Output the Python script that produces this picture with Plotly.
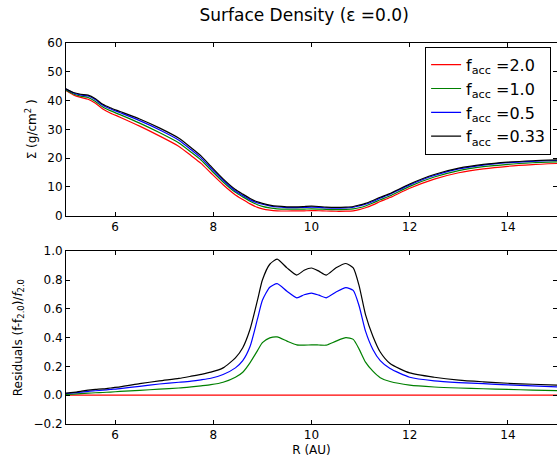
import plotly.graph_objects as go
from plotly.subplots import make_subplots

R = [5.0, 5.15, 5.3, 5.45, 5.6, 5.75, 5.9, 6.1, 6.5, 6.9, 7.3, 7.55, 7.75, 7.95, 8.2, 8.45, 8.6,
     8.75, 8.9, 9.0, 9.15, 9.3, 9.5, 9.7, 9.85, 10.0, 10.15, 10.3, 10.5, 10.7, 10.85, 10.97,
     11.1, 11.25, 11.4, 11.6, 12.0, 12.5, 13.0, 13.5, 14.0, 14.5, 15.0]

sigma_f20 = [43.45, 41.96, 41.09, 40.48, 39.04, 37.07, 35.71, 34.22, 31.11, 27.73, 24.08, 20.85,
             18.17, 14.83, 10.76, 7.22, 5.64, 4.11, 2.89, 2.39, 1.94, 1.70, 1.64, 1.69, 1.71, 1.75,
             1.72, 1.63, 1.54, 1.57, 1.70, 2.10, 2.76, 3.76, 4.92, 6.31, 9.52, 12.71, 14.93, 16.29,
             17.17, 17.75, 18.13]
sigma_f10 = [43.67, 42.30, 41.54, 41.05, 39.70, 37.77, 36.50, 35.11, 32.17, 28.89, 25.28, 22.06,
             19.35, 15.91, 11.73, 8.12, 6.54, 5.04, 3.79, 3.26, 2.71, 2.39, 2.26, 2.28, 2.31, 2.36,
             2.32, 2.20, 2.12, 2.20, 2.36, 2.77, 3.39, 4.39, 5.52, 6.91, 10.19, 13.43, 15.68, 17.02,
             17.86, 18.39, 18.71]
sigma_f05 = [43.97, 42.63, 41.95, 41.57, 40.25, 38.37, 37.14, 35.79, 33.04, 29.89, 26.25, 22.89,
             20.11, 16.58, 12.31, 8.59, 6.99, 5.51, 4.42, 3.97, 3.40, 3.02, 2.82, 2.83, 2.90, 2.99,
             2.92, 2.73, 2.64, 2.74, 2.94, 3.40, 3.99, 4.96, 6.10, 7.48, 10.71, 13.98, 16.24, 17.59,
             18.41, 18.90, 19.18]
sigma_f033 = [44.1, 42.8, 42.2, 41.9, 40.6, 38.7, 37.5, 36.2, 33.6, 30.5, 26.9, 23.6, 20.8, 17.2,
              12.8, 9.1, 7.5, 6.0, 4.8, 4.3, 3.7, 3.3, 3.1, 3.1, 3.2, 3.3, 3.2, 3.0, 2.9, 3.0, 3.2,
              3.7, 4.3, 5.3, 6.4, 7.7, 11.0, 14.3, 16.5, 17.8, 18.6, 19.1, 19.4]

res_f20 = [0.0] * len(R)
res_f10 = [0.005, 0.008, 0.011, 0.014, 0.017, 0.019, 0.022, 0.026, 0.034, 0.042, 0.05, 0.058,
           0.065, 0.073, 0.09, 0.125, 0.16, 0.227, 0.31, 0.365, 0.398, 0.405, 0.376, 0.35, 0.348,
           0.35, 0.349, 0.348, 0.376, 0.40, 0.388, 0.32, 0.23, 0.167, 0.122, 0.095, 0.07, 0.057,
           0.05, 0.045, 0.04, 0.036, 0.032]
res_f05 = [0.012, 0.016, 0.021, 0.027, 0.031, 0.035, 0.04, 0.046, 0.062, 0.078, 0.09, 0.098,
           0.107, 0.118, 0.144, 0.19, 0.24, 0.34, 0.53, 0.66, 0.75, 0.775, 0.722, 0.677, 0.698,
           0.71, 0.695, 0.677, 0.717, 0.747, 0.728, 0.62, 0.445, 0.318, 0.24, 0.185, 0.125, 0.1,
           0.088, 0.08, 0.072, 0.065, 0.058]
res_f033 = [0.015, 0.02, 0.027, 0.035, 0.04, 0.044, 0.05, 0.058, 0.08, 0.1, 0.117, 0.132, 0.145,
            0.16, 0.19, 0.26, 0.33, 0.46, 0.66, 0.80, 0.91, 0.945, 0.885, 0.835, 0.868, 0.884,
            0.862, 0.835, 0.885, 0.915, 0.885, 0.76, 0.56, 0.41, 0.30, 0.22, 0.155, 0.125, 0.105,
            0.093, 0.083, 0.076, 0.07]

labels = ["f<sub>acc</sub> =2.0", "f<sub>acc</sub> =1.0", "f<sub>acc</sub> =0.5", "f<sub>acc</sub> =0.33"]
colors = ["#ff0000", "#008000", "#0000ff", "#000000"]
top_series = [sigma_f20, sigma_f10, sigma_f05, sigma_f033]
bot_series = [res_f20, res_f10, res_f05, res_f033]

fig = make_subplots(rows=2, cols=1, vertical_spacing=0.0934)

for lab, col, ys in zip(labels, colors, top_series):
    fig.add_trace(go.Scatter(x=R, y=ys, mode="lines", name=lab,
                             line=dict(color=col, width=1.2, shape="spline", smoothing=0.6)),
                  row=1, col=1)
for lab, col, ys in zip(labels, colors, bot_series):
    fig.add_trace(go.Scatter(x=R, y=ys, mode="lines", name=lab, showlegend=False,
                             line=dict(color=col, width=1.2, shape="spline", smoothing=0.6)),
                  row=2, col=1)

font = "DejaVu Sans, Arial, sans-serif"
axis_common = dict(showline=True, linecolor="black", linewidth=1, mirror="ticks",
                   ticks="inside", ticklen=4, tickcolor="black", showgrid=False,
                   zeroline=False, tickfont=dict(size=12, color="black"))

fig.update_xaxes(range=[5, 15], tickvals=[6, 8, 10, 12, 14], **axis_common)
fig.update_xaxes(title=dict(text="R (AU)", font=dict(size=12, color="black"), standoff=4), row=2, col=1)
fig.update_yaxes(range=[0, 60], tickvals=[0, 10, 20, 30, 40, 50, 60],
                 title=dict(text="Σ (g/cm<sup>2</sup> )", font=dict(size=12, color="black"), standoff=8),
                 row=1, col=1, **axis_common)
fig.update_yaxes(range=[-0.2, 1.0], tickvals=[-0.2, 0.0, 0.2, 0.4, 0.6, 0.8, 1.0], tickformat=".1f",
                 title=dict(text="Residuals (f-f<sub>2.0</sub>)/<i>f</i><sub>2.0</sub>",
                            font=dict(size=12, color="black"), standoff=8),
                 row=2, col=1, **axis_common)

fig.update_layout(
    width=557, height=459,
    margin=dict(l=66, r=0, t=43, b=35),
    paper_bgcolor="white", plot_bgcolor="white",
    font=dict(family=font, color="black"),
    title=dict(text="Surface Density (ε =0.0)", x=0.546, xanchor="center",
               y=1 - 15 / 459, yanchor="middle", yref="container",
               font=dict(size=17, color="black")),
    legend=dict(x=0.988, xanchor="right", y=0.99, yanchor="top", yref="paper",
                bordercolor="black", borderwidth=1, bgcolor="white",
                font=dict(size=16, color="black"), tracegroupgap=0),
    showlegend=True,
)

fig.write_html("out.html")
